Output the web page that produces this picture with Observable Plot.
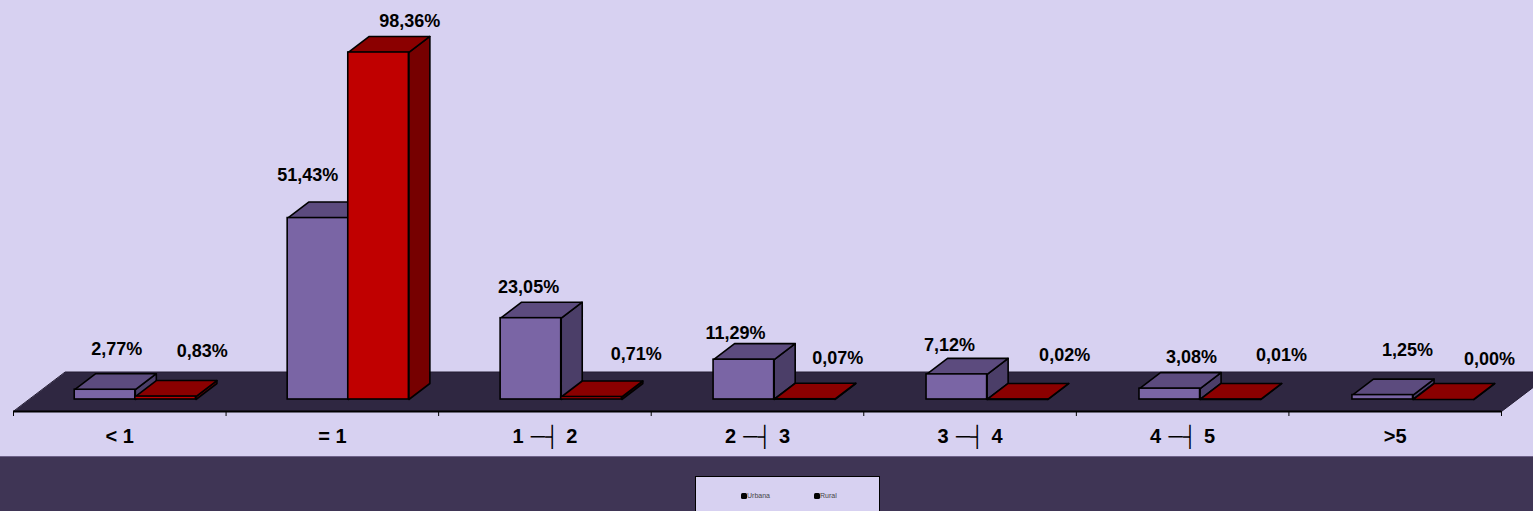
<!DOCTYPE html>
<html><head><meta charset="utf-8">
<script src="https://cdn.jsdelivr.net/npm/d3@7"></script>
<script src="https://cdn.jsdelivr.net/npm/@observablehq/plot@0.6"></script>
<style>
html,body{margin:0;padding:0;background:#3f3555;overflow:hidden;width:1533px;height:511px}
#chart{height:456px;background:#d7d1f1;line-height:0}
#chart svg{display:block;background:transparent}
#band{position:relative;height:55px;background:#3f3555;overflow:hidden;border-top:1px solid #6d6188;box-sizing:border-box}
#legend{position:absolute;left:695px;top:19px;width:183px;height:60px;background:#d7d1f1;border:1px solid #000;font:7px "Liberation Sans",Arial,sans-serif;color:#444}
#legend span{position:absolute;top:15px;line-height:8px;white-space:nowrap;opacity:.99}
#legend i{display:inline-block;width:6px;height:6px;background:#000;border-radius:1.5px;vertical-align:-0.5px}
</style></head><body>
<div id="chart"></div>
<div id="band"><div id="legend"></div></div>
<script>
const categories = ["< 1", "= 1", "1 \u200A─┤\u200A 2", "2 \u200A─┤\u200A 3", "3 \u200A─┤\u200A 4", "4 \u200A─┤\u200A 5", ">5"];
const urbana = [2.77, 51.43, 23.05, 11.29, 7.12, 3.08, 1.25];
const rural  = [0.83, 98.36, 0.71, 0.07, 0.02, 0.01, 0.00];
const seriesNames = ["Urbana", "Rural"];

// Presentation offsets (px) of the hand-placed value labels, from each bar's front-top-left corner
const urbanaNudge = [[42,-40],[20,-43],[28,-31],[22,-26],[23,-29],[52,-31],[55,-45]];
const ruralNudge  = [[67,-45],[61.5,-31],[75,-43],[63.5,-41.5],[77.5,-44],[81.5,-44],[76.5,-40]];

const pxX = 212.57, pxY = 3.528;         // px per scale unit, for the oblique projection
const W = 1533, H = 456, baseY = 399;
const depthX = 21 / pxX, depthY = 16 / pxY;
const barW = 60.6 / pxX, barStart = 0.288;
const fmt = v => v.toFixed(2).replace(".", ",") + "%";

const palette = {
  Urbana: {front:"#7a65a5", top:"#5c4b7e", side:"#4b3e68"},
  Rural:  {front:"#c00000", top:"#8b0000", side:"#760000"}
};

function bars(values, name, idx) {
  return values.map((v, i) => {
    const x0 = i + barStart + i * 0.0018 + idx * barW;
    return {name, i, v, x0, x1: x0 + barW};
  });
}
const allBars = [...bars(urbana, "Urbana", 0), ...bars(rural, "Rural", 1)];

const topFace = b => [[b.x0,b.v],[b.x1,b.v],[b.x1+depthX,b.v+depthY],[b.x0+depthX,b.v+depthY]];
const sideFace = b => [[b.x1,0],[b.x1+depthX,depthY],[b.x1+depthX,b.v+depthY],[b.x1,b.v]];
const polys = (list, face) => list.flatMap(b => face(b).map(([x,y]) => ({x, y, z: b.i})));

const floorDepthX = 52 / pxX, floorFront = -12 / pxY, floorBack = 27.5 / pxY;
const floor = [[0,floorFront],[7,floorFront],[7+floorDepthX,floorBack],[floorDepthX,floorBack]]
  .map(([x,y]) => ({x,y}));
const boundaries = d3.range(0, 8);

const barMarks = seriesNames.flatMap(name => {
  const list = allBars.filter(b => b.name === name);
  const c = palette[name];
  const opts = {x:"x", y:"y", z:"z", curve:"linear-closed", stroke:"#000", strokeWidth:1.6, strokeLinejoin:"round"};
  return [
    Plot.line(polys(list, sideFace), {...opts, fill:c.side}),
    Plot.line(polys(list, topFace), {...opts, fill:c.top}),
    Plot.rect(list, {x1:"x0", x2:"x1", y1:0, y2:"v", fill:c.front, stroke:"#000", strokeWidth:1.6})
  ];
});

const labels = [
  ...urbana.map((v,i) => ({v, b: allBars.find(d => d.name==="Urbana" && d.i===i), n: urbanaNudge[i]})),
  ...rural.map((v,i) => ({v, b: allBars.find(d => d.name==="Rural" && d.i===i), n: ruralNudge[i]}))
].map(d => ({text: fmt(d.v), x: d.b.x0 + d.n[0]/pxX, y: d.v - d.n[1]/pxY}));

const plot = Plot.plot({
  width: W, height: H,
  marginTop: 0, marginRight: 0, marginBottom: 0, marginLeft: 0,
  style: {background: "transparent", overflow: "visible"},
  x: {type: "linear", domain: [0, 7], range: [13, 13 + 7 * pxX], axis: null},
  y: {type: "linear", domain: [0, 100], range: [baseY, baseY - 100 * pxY], axis: null},
  marks: [
    Plot.line(floor, {x:"x", y:"y", curve:"linear-closed", fill:"#2f2741", stroke:"#241d33", strokeWidth:1}),
    Plot.ruleX(boundaries, {x: d => d, y1: floorFront, y2: floorFront - 5 / pxY, stroke:"#000", strokeWidth:1}),
    Plot.ruleY([floorFront], {x1: 0, x2: 7, stroke:"#000", strokeWidth:2}),
    ...barMarks,
    Plot.text(labels, {x:"x", y:"y", text:"text", fontFamily:"Liberation Sans, Arial, sans-serif", fontWeight:"bold", fontSize:18, fill:"#000"}),
    Plot.text(categories, {x: (d,i) => i + 0.5, y: floorFront - 25 / pxY, text: d => d, fontFamily:"Liberation Sans, DejaVu Sans, Arial, sans-serif", fontWeight:"bold", fontSize:20, fill:"#000"})
  ]
});
document.getElementById("chart").appendChild(plot);

const legend = document.getElementById("legend");
seriesNames.forEach((name, k) => {
  const s = document.createElement("span");
  s.style.left = (45 + k * 73) + "px";
  s.innerHTML = "<i></i>" + name;
  legend.appendChild(s);
});
</script>
</body></html>
